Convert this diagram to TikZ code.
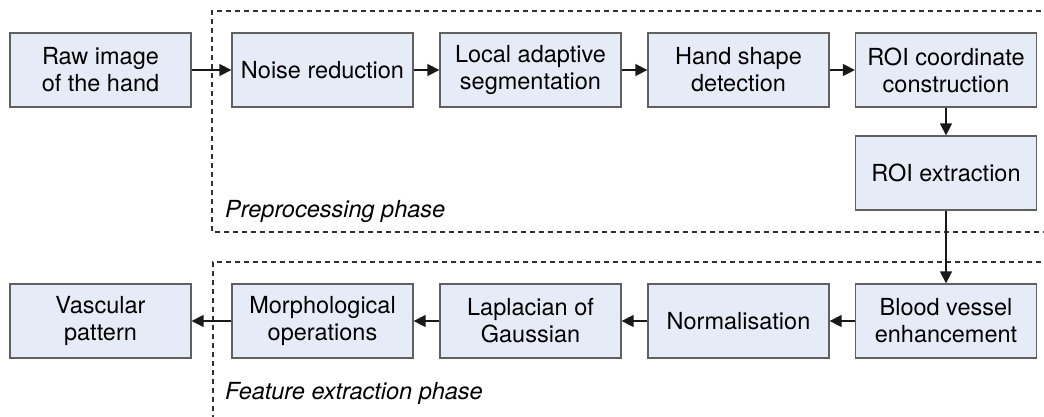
\documentclass[tikz,border=0pt]{standalone}
\usepackage{fontspec}
\setmainfont{TeX Gyre Heros}
\usetikzlibrary{arrows.meta}
\definecolor{boxfill}{HTML}{E6ECF7}
\definecolor{boxline}{HTML}{606060}
\definecolor{phaseline}{HTML}{303030}
\begin{document}
\begin{tikzpicture}[x=1pt,y=-1pt,
  stepbox/.style={draw=boxline,fill=boxfill,line width=1.3pt,
    minimum width=181pt,minimum height=74pt,inner sep=0pt,
    align=center,font=\fontsize{23.5}{27}\selectfont},
  flow/.style={-{Triangle[length=12pt,width=12pt]},line width=1.5pt,draw=black!90},
  phase/.style={draw=phaseline,line width=1.2pt,dash pattern=on 5pt off 4pt},
  phaselabel/.style={anchor=west,inner sep=0pt,font=\fontsize{23.5}{27}\selectfont\itshape}
]
\useasboundingbox (0,0) rectangle (1044,416);

% phase frames (open on the right / bottom)
\draw[phase] (1050,11) -- (212,11) -- (212,232) -- (1050,232);
\draw[phase] (1050,262) -- (213,262) -- (213,420);
\node[phaselabel] (pre) at (225,211) {Preprocessing phase};
\node[phaselabel] (feat) at (225,393) {Feature extraction phase};

% processing steps
\node[stepbox] (raw)   at (100.5,70) {Raw image\\of the hand};
\node[stepbox] (noise) at (322.5,70) {Noise reduction};
\node[stepbox] (seg)   at (530.5,70) {Local adaptive\\segmentation};
\node[stepbox] (hand)  at (738.5,70) {Hand shape\\detection};
\node[stepbox] (coord) at (946,70)   {ROI coordinate\\construction};
\node[stepbox] (roi)   at (946,173)  {ROI extraction};
\node[stepbox] (blood) at (946,321)  {Blood vessel\\enhancement};
\node[stepbox] (norm)  at (738.5,321) {Normalisation};
\node[stepbox] (log)   at (530.5,321) {Laplacian of\\Gaussian};
\node[stepbox] (morph) at (322.5,321) {Morphological\\operations};
\node[stepbox] (vasc)  at (100.5,321) {Vascular\\pattern};

% connectors
\draw[flow] (raw) -- (noise);
\draw[flow] (noise) -- (seg);
\draw[flow] (seg) -- (hand);
\draw[flow] (hand) -- (coord);
\draw[flow] (coord) -- (roi);
\draw[flow] (roi) -- (blood);
\draw[flow] (blood) -- (norm);
\draw[flow] (norm) -- (log);
\draw[flow] (log) -- (morph);
\draw[flow] (morph) -- (vasc);
\end{tikzpicture}
\end{document}
